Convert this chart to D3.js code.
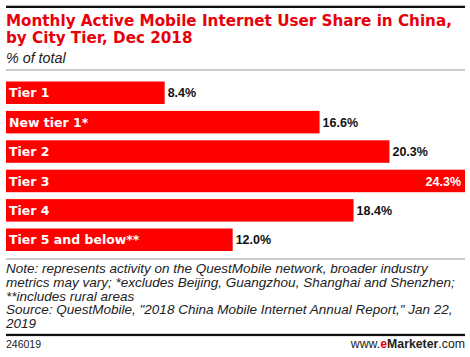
<!DOCTYPE html>
<html><head><meta charset="utf-8">
<script src="https://cdn.jsdelivr.net/npm/d3@7"></script>
<style>body{margin:0;background:#fff}svg{display:block}</style>
</head><body>
<script>
const categories = ["Tier 1","New tier 1*","Tier 2","Tier 3","Tier 4","Tier 5 and below**"];
const values = [8.4,16.6,20.3,24.3,18.4,12.0];
const valueLabels = ["8.4%","16.6%","20.3%","24.3%","18.4%","12.0%"];
const titleLines = ["Monthly Active Mobile Internet User Share in China,","by City Tier, Dec 2018"];
const subtitle = "% of total";
const noteLines = ["Note: represents activity on the QuestMobile network, broader industry",
"metrics may vary; *excludes Beijing, Guangzhou, Shanghai and Shenzhen;",
"**includes rural areas",
"Source: QuestMobile, \"2018 China Mobile Internet Annual Report,\" Jan 22,",
"2019"];

const W=470,H=357;
const svg=d3.select("body").append("svg").attr("width",W).attr("height",H);
const font="'Liberation Sans', Arial, sans-serif";
const bfont="'DejaVu Sans', sans-serif";
const red="#ff0000";

svg.append("rect").attr("x",6).attr("y",5.7).attr("width",459).attr("height",2.3).attr("fill","#111");
const tt=svg.append("text").attr("fill","#e8000b").attr("font-family",bfont)
 .attr("font-weight","bold").attr("font-size",15.2);
tt.selectAll("tspan").data(titleLines).join("tspan").attr("x",6).attr("y",(d,i)=>26+i*17.3).text(d=>d);
svg.append("text").attr("x",6).attr("y",63).attr("font-family",font).attr("font-style","italic")
 .attr("font-size",14.3).attr("fill","#222").text(subtitle);
svg.append("rect").attr("x",6).attr("y",69.5).attr("width",459).attr("height",1).attr("fill","#999");

const x=d3.scaleLinear().domain([0,24.3]).range([6,465]);
const y=d3.scaleBand().domain(categories).range([81.5,251]).paddingInner(0.235).paddingOuter(0);

const g=svg.append("g");
g.selectAll("rect.bar").data(categories).join("rect").attr("class","bar")
 .attr("x",x(0)).attr("y",d=>y(d)).attr("width",(d,i)=>x(values[i])-x(0)).attr("height",y.bandwidth())
 .attr("fill",red);
g.selectAll("text.cat").data(categories).join("text").attr("class","cat")
 .attr("x",9).attr("y",d=>y(d)+y.bandwidth()/2+4.6).attr("fill","#fff").attr("font-family",bfont)
 .attr("font-weight","bold").attr("font-size",12.5).text(d=>d);
const maxV=d3.max(values);
g.selectAll("text.val").data(categories).join("text").attr("class","val")
 .attr("x",(d,i)=>values[i]===maxV? x(values[i])-4 : x(values[i])+3)
 .attr("text-anchor",(d,i)=>values[i]===maxV?"end":"start")
 .attr("y",d=>y(d)+y.bandwidth()/2+4.6)
 .attr("fill",(d,i)=>values[i]===maxV?"#fff":"#111").attr("font-family",font)
 .attr("font-weight","bold").attr("font-size",12.5).text((d,i)=>valueLabels[i]);

svg.append("rect").attr("x",6).attr("y",258.5).attr("width",459).attr("height",1).attr("fill","#999");
const nt=svg.append("text").attr("font-family",font).attr("font-style","italic")
 .attr("font-size",13.5).attr("fill","#222");
nt.selectAll("tspan").data(noteLines).join("tspan").attr("x",6).attr("y",(d,i)=>273.3+i*13.6).text(d=>d);
svg.append("rect").attr("x",6).attr("y",333.8).attr("width",459).attr("height",2.3).attr("fill","#111");
svg.append("text").attr("x",6).attr("y",348).attr("font-family",font).attr("font-size",10.5).attr("fill","#222").text("246019");
const ft=svg.append("text").attr("x",465).attr("y",348).attr("text-anchor","end").attr("font-family",font).attr("font-size",12.3).attr("fill","#222");
ft.append("tspan").text("www.");
ft.append("tspan").attr("fill","#e8000b").attr("font-weight","bold").text("e");
ft.append("tspan").attr("font-weight","bold").text("Marketer");
ft.append("tspan").text(".com");
</script>
</body></html>
